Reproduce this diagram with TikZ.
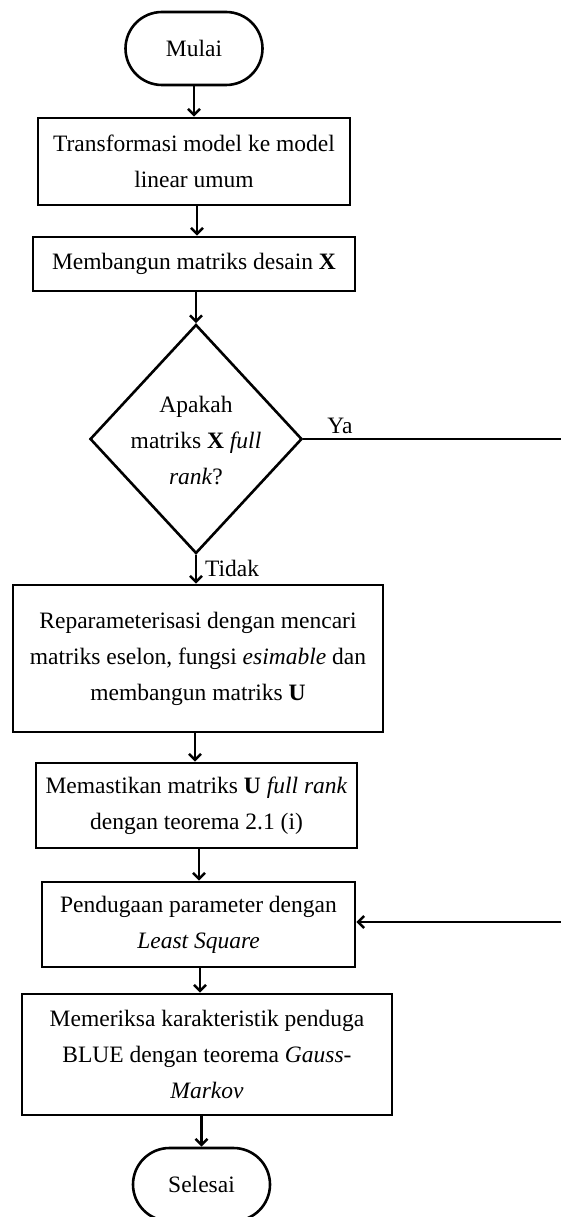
\documentclass[tikz,border=0pt]{standalone}
\usepackage{fontspec}
\setmainfont{Liberation Serif}
\usetikzlibrary{arrows.meta,shapes.misc,shapes.geometric}
\begin{document}
\begin{tikzpicture}[x=1pt,y=-1pt,
  every node/.style={font=\fontsize{23.5}{36}\selectfont},
  lw/.style={line width=2.6pt},
  procbox/.style={draw,lw,rectangle,align=center,inner sep=0pt},
  termbox/.style={draw,lw,rounded rectangle,inner sep=0pt,minimum width=137pt,minimum height=73pt},
  arr/.style={lw,-{Straight Barb[length=6pt,width=12pt,line width=2.6pt]}},
  lbl/.style={inner sep=0pt}
]
\useasboundingbox (0,0) rectangle (560,1217);

\node[termbox] (start) at (194,48.5) {Mulai};
\node[procbox,minimum width=312pt,minimum height=87pt] (b1) at (194,161.5) {Transformasi model ke model\\linear umum};
\node[procbox,minimum width=322pt,minimum height=54pt] (b2) at (194,264) {Membangun matriks desain \textbf{X}};
\node[draw,lw,diamond,minimum width=212pt,minimum height=229pt,inner sep=0pt] (d) at (196,439) {};
\node[align=center,inner sep=0pt] (dt) at (196,441) {Apakah\\matriks \textbf{X} \textit{full}\\\textit{rank}?};
\node[procbox,minimum width=370pt,minimum height=147pt] (b3) at (198,658.5) {Reparameterisasi dengan mencari\\matriks eselon, fungsi \textit{esimable} dan\\membangun matriks \textbf{U}};
\node[procbox,minimum width=321pt,minimum height=85pt] (b4) at (196.5,805.5) {Memastikan matriks \textbf{U} \textit{full rank}\\dengan teorema 2.1 (i)};
\node[procbox,minimum width=313pt,minimum height=85pt] (b5) at (198.5,924.5) {Pendugaan parameter dengan\\\textit{Least Square}};
\node[procbox,minimum width=370pt,minimum height=121pt] (b6) at (207,1054.5) {Memeriksa karakteristik penduga\\BLUE dengan teorema \textit{Gauss-}\\\textit{Markov}};
\node[termbox] (end) at (201.5,1184.5) {Selesai};

\coordinate (r1) at (564,439);
\coordinate (r2) at (564,922);

\draw[arr] (start.south) -- (start.south |- b1.north);
\draw[arr] ([xshift=3pt]b1.south) -- ([xshift=3pt]b1.south |- b2.north);
\draw[arr] (d.north |- b2.south) -- (d.north);
\draw[arr] (d.south) -- (d.south |- b3.north);
\draw[arr] ([xshift=-1.5pt]b4.north |- b3.south) -- ([xshift=-1.5pt]b4.north);
\draw[arr] ([xshift=2.5pt]b4.south) -- ([xshift=2.5pt]b4.south |- b5.north);
\draw[arr] ([xshift=1.5pt]b5.south) -- ([xshift=1.5pt]b5.south |- b6.north);
\draw[arr] (end.north |- b6.south) -- (end.north);
\draw[lw] (d.east) -- (r1) -- (r2);
\draw[arr] (r2) -- (r2 -| b5.east);

\node[lbl] (ya) at (340,426) {Ya};
\node[lbl] (tidak) at (232,568) {Tidak};
\end{tikzpicture}
\end{document}
